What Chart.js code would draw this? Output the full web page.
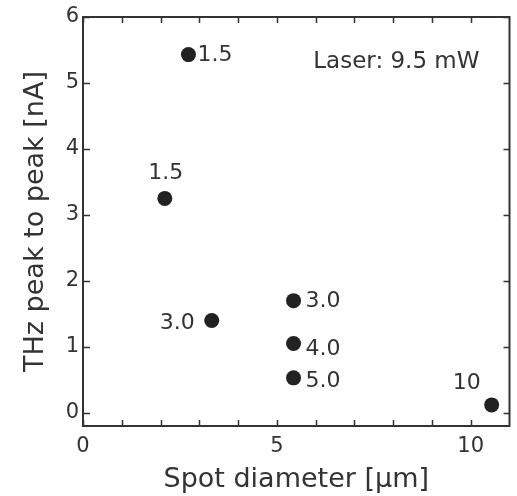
<!DOCTYPE html>
<html>
<head>
<meta charset="utf-8">
<script src="https://cdn.jsdelivr.net/npm/chart.js@4.4.1/dist/chart.umd.min.js"></script>
<style>
  html, body { margin: 0; padding: 0; background: #ffffff; }
  #wrap { width: 517px; height: 496px; position: relative; }
</style>
</head>
<body>
<div id="wrap"><canvas id="c"></canvas></div>
<script>
// ---- data ----
const spotDiameter = [2.72, 2.11, 3.32, 5.43, 5.43, 5.43, 10.54];   // µm
const thzPeakToPeak = [5.43, 3.25, 1.40, 1.70, 1.05, 0.53, 0.12];   // nA
const pointLabels = ["1.5", "1.5", "3.0", "3.0", "4.0", "5.0", "10"];
const xTickLabels = [0, 5, 10];
const xTickMarks = [0, 1, 2, 3, 4, 5, 6, 7, 8, 9, 10];
const yTickLabels = [0, 1, 2, 3, 4, 5, 6];
const annotationText = "Laser: 9.5 mW";
const xTitle = "Spot diameter [\u00b5m]";
const yTitle = "THz peak to peak [nA]";

// ---- styling (label placement relative to each point) ----
const labelPlacement = [
  { dx: 9,   dy: 1,   align: "left" },
  { dx: 1,   dy: -25, align: "center" },
  { dx: -17, dy: 3,   align: "right" },
  { dx: 12,  dy: 1,   align: "left" },
  { dx: 12,  dy: 6,   align: "left" },
  { dx: 12,  dy: 3,   align: "left" },
  { dx: -25, dy: -22, align: "center" }
];
const FONT = "'DejaVu Sans', sans-serif";
const INK = "#333333";

const framePlugin = {
  id: "frame",
  afterDatasetsDraw(chart) {
    const ctx = chart.ctx;
    const xs = chart.scales.x, ys = chart.scales.y;
    const a = chart.chartArea;
    ctx.save();
    ctx.strokeStyle = INK;
    ctx.lineWidth = 2;
    // top and right frame lines
    ctx.beginPath();
    ctx.moveTo(a.left - 1, a.top);
    ctx.lineTo(a.right, a.top);
    ctx.lineTo(a.right, a.bottom + 1);
    ctx.stroke();
    // inward tick marks
    ctx.lineWidth = 1.5;
    ctx.beginPath();
    xTickMarks.forEach(v => {
      const px = Math.round(xs.getPixelForValue(v)) + 0.5;
      ctx.moveTo(px, a.bottom); ctx.lineTo(px, a.bottom - 6);
      ctx.moveTo(px, a.top); ctx.lineTo(px, a.top + 6);
    });
    yTickLabels.forEach(v => {
      const py = Math.round(ys.getPixelForValue(v)) + 0.5;
      ctx.moveTo(a.left, py); ctx.lineTo(a.left + 7, py);
      ctx.moveTo(a.right, py); ctx.lineTo(a.right - 6, py);
    });
    ctx.stroke();
    // point labels
    ctx.fillStyle = INK;
    ctx.font = "22px " + FONT;
    ctx.textBaseline = "middle";
    pointLabels.forEach((t, i) => {
      const px = xs.getPixelForValue(spotDiameter[i]);
      const py = ys.getPixelForValue(thzPeakToPeak[i]);
      const p = labelPlacement[i];
      ctx.textAlign = p.align;
      ctx.fillText(t, px + p.dx, py + p.dy);
    });
    // annotation
    ctx.font = "23px " + FONT;
    ctx.textAlign = "left";
    ctx.fillText(annotationText, a.left + 0.54 * (a.right - a.left), a.top + 0.11 * (a.bottom - a.top));
    ctx.restore();
  }
};

new Chart(document.getElementById("c"), {
  type: "scatter",
  data: {
    datasets: [{
      data: spotDiameter.map((x, i) => ({ x: x, y: thzPeakToPeak[i] })),
      backgroundColor: "#222222",
      borderWidth: 0,
      pointRadius: 7.5,
      pointHoverRadius: 7.5
    }]
  },
  options: {
    responsive: true,
    maintainAspectRatio: false,
    animation: false,
    events: [],
    layout: { padding: { top: 17, right: 6, left: 0, bottom: 0 } },
    plugins: { legend: { display: false }, tooltip: { enabled: false } },
    scales: {
      x: {
        type: "linear",
        min: 0, max: 11,
        afterBuildTicks(s) { s.ticks = xTickLabels.map(v => ({ value: v })); },
        afterFit(s) { s.height = 70; },
        grid: { display: false, drawTicks: false },
        border: { display: true, color: INK, width: 2 },
        ticks: { color: INK, padding: 8, maxRotation: 0, font: { family: FONT, size: 21 } },
        title: { display: true, text: xTitle, color: INK, padding: { top: 0, bottom: 0 }, font: { family: FONT, size: 27 } }
      },
      y: {
        type: "linear",
        min: -0.2, max: 6,
        afterBuildTicks(s) { s.ticks = yTickLabels.map(v => ({ value: v })); },
        afterFit(s) { s.width = 83; },
        grid: { display: false, drawTicks: false },
        border: { display: true, color: INK, width: 2 },
        ticks: { color: INK, padding: 4, font: { family: FONT, size: 21 } },
        title: { display: true, text: yTitle, color: INK, padding: { top: 20, bottom: 0 }, font: { family: FONT, size: 27 } }
      }
    }
  },
  plugins: [framePlugin]
});
</script>
</body>
</html>
